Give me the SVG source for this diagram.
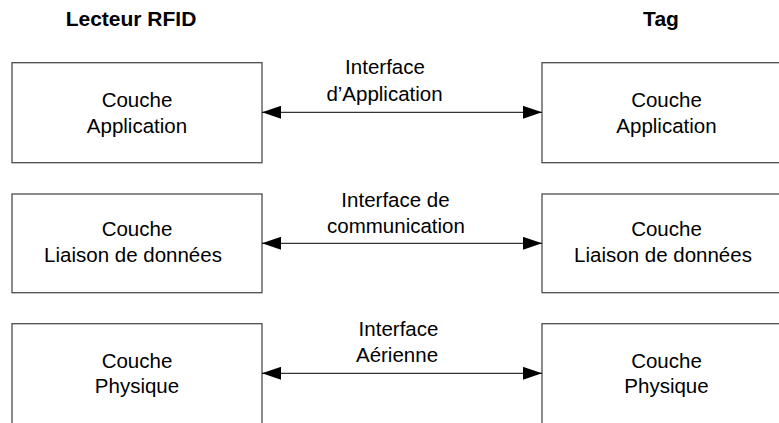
<svg xmlns="http://www.w3.org/2000/svg" width="779" height="423" viewBox="0 0 779 423">
<style>
.box{fill:#fff;stroke:#4d4d4d;stroke-width:1.3}
.t{font-family:"Liberation Sans",Arial,sans-serif;font-size:20.5px;fill:#000;text-anchor:middle}
.h{font-family:"Liberation Sans",Arial,sans-serif;font-size:21px;font-weight:bold;fill:#000;text-anchor:middle}
.conn{stroke:#000;stroke-width:1;fill:none;marker-start:url(#ah);marker-end:url(#ah)}
</style>
<defs>
<marker id="ah" viewBox="0 0 19 13" refX="19" refY="6.5" markerWidth="19" markerHeight="13" markerUnits="userSpaceOnUse" orient="auto-start-reverse">
<path d="M0,0 L19,6.5 L0,13 z" fill="#000"/>
</marker>
</defs>
<rect width="779" height="423" fill="#fff"/>
<text class="h" x="131" y="26">Lecteur RFID</text>
<text class="h" x="661" y="26">Tag</text>

<g id="reader-app">
<rect class="box" x="12" y="62.7" width="250" height="100"/>
<text class="t" x="137" y="107.3">Couche</text>
<text class="t" x="137" y="132.7">Application</text>
</g>
<g id="tag-app">
<rect class="box" x="542" y="62.7" width="250" height="100"/>
<text class="t" x="666.5" y="107.3">Couche</text>
<text class="t" x="666.5" y="132.7">Application</text>
</g>
<g id="reader-link">
<rect class="box" x="12" y="194" width="250" height="98.7"/>
<text class="t" x="137" y="235.5">Couche</text>
<text class="t" x="133" y="261.5">Liaison de données</text>
</g>
<g id="tag-link">
<rect class="box" x="542" y="194" width="250" height="98.7"/>
<text class="t" x="666.5" y="235.5">Couche</text>
<text class="t" x="663" y="261.5">Liaison de données</text>
</g>
<g id="reader-phy">
<rect class="box" x="12" y="323.7" width="250" height="120"/>
<text class="t" x="137" y="368.3">Couche</text>
<text class="t" x="137" y="393.3">Physique</text>
</g>
<g id="tag-phy">
<rect class="box" x="542" y="323.7" width="250" height="120"/>
<text class="t" x="666.5" y="368.3">Couche</text>
<text class="t" x="666.5" y="393.3">Physique</text>
</g>

<g id="connectors">
<line class="conn" x1="262" y1="112.3" x2="542" y2="112.3"/>
<line class="conn" x1="262" y1="243.3" x2="542" y2="243.3"/>
<line class="conn" x1="262" y1="373.3" x2="542" y2="373.3"/>
<text class="t" x="385" y="74.3">Interface</text>
<text class="t" x="384.5" y="101">d’Application</text>
<text class="t" x="395.5" y="206.7">Interface de</text>
<text class="t" x="396" y="232.7">communication</text>
<text class="t" x="398.5" y="336">Interface</text>
<text class="t" x="397" y="362">Aérienne</text>
</g>
</svg>
